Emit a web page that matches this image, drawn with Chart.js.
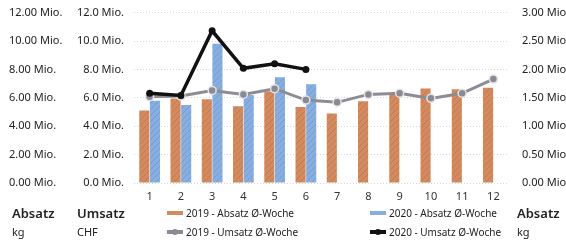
<!DOCTYPE html>
<html>
<head>
<meta charset="utf-8">
<script src="https://cdn.jsdelivr.net/npm/chart.js@4"></script>
<style>
  body { margin: 0; background: #fff; font-family: "Noto Sans", sans-serif; color: #222; }
  #wrap { position: relative; width: 566px; height: 244px; overflow: hidden; }
  canvas { position: absolute; left: 0; top: -4px; }
  .t { position: absolute; white-space: nowrap; }
  .big { font-size: 13px; font-weight: 600; }
  .small { font-size: 11px; }
  .leg { position: absolute; font-size: 10px; white-space: nowrap; display: flex; align-items: center; }
  .sw { display: inline-block; width: 16px; height: 4px; margin-right: 3px; position: relative; }
  .sw i { position: absolute; left: 5px; top: -1px; width: 6px; height: 6px; border-radius: 3px; }
</style>
</head>
<body>
<div id="wrap">
  <canvas id="chart" width="566" height="248"></canvas>
  <div class="t big" style="left:12px; top:204px;">Absatz</div>
  <div class="t small" style="left:12px; top:224px;">kg</div>
  <div class="t big" style="left:77px; top:204px;">Umsatz</div>
  <div class="t small" style="left:77px; top:224px;">CHF</div>
  <div class="t big" style="left:517px; top:204px;">Absatz</div>
  <div class="t small" style="left:517px; top:224px;">kg</div>
  <div id="legend"></div>
</div>
<script>
// Kalenderwochen-Gruppen
const labels = ['1', '2', '3', '4', '5', '6', '7', '8', '9', '10', '11', '12'];

// Absatz (Mio. kg), linke Achse
const absatz2019 = [5.1, 5.95, 5.9, 5.4, 6.45, 5.35, 4.9, 5.75, 6.2, 6.65, 6.6, 6.7];
const absatz2020 = [5.8, 5.5, 9.8, 6.2, 7.45, 6.95];

// Umsatz (Mio. CHF), rechte Achse
const umsatz2019 = [1.52, 1.53, 1.63, 1.56, 1.66, 1.46, 1.42, 1.56, 1.58, 1.49, 1.58, 1.83];
const umsatz2020 = [1.58, 1.54, 2.68, 2.02, 2.1, 2.0];

const leftTicks = [0, 2, 4, 6, 8, 10, 12];
const rightTicks = [0, 0.5, 1, 1.5, 2, 2.5, 3];

// schraffierte Balken wie im Ausdruck
function hatch(base, line) {
    const c = document.createElement('canvas');
    c.width = 6; c.height = 6;
    const g = c.getContext('2d');
    g.fillStyle = base;
    g.fillRect(0, 0, 6, 6);
    g.strokeStyle = line;
    g.lineWidth = 1;
    g.beginPath();
    g.moveTo(0, 6); g.lineTo(6, 0);
    g.moveTo(-3, 3); g.lineTo(3, -3);
    g.moveTo(3, 9); g.lineTo(9, 3);
    g.stroke();
    return g.createPattern(c, 'repeat');
}

const ctx = document.getElementById('chart').getContext('2d');
const orange = hatch('#d48a5c', '#c47a4c');
const blue = hatch('#86aee0', '#739ed4');

const datasets = [
    { type: 'line', label: '2020 - Umsatz Ø-Woche', data: umsatz2020, yAxisID: 'y3', order: 0,
      borderColor: '#111', backgroundColor: '#111', borderWidth: 3.5,
      pointRadius: 3.5, pointBackgroundColor: '#111', pointBorderWidth: 0, tension: 0 },
    { type: 'line', label: '2019 - Umsatz Ø-Woche', data: umsatz2019, yAxisID: 'y3', order: 1,
      borderColor: '#8c8c94', backgroundColor: '#8c8c94', borderWidth: 3,
      pointRadius: 4, pointBackgroundColor: '#8a8a92', pointBorderColor: '#e4e4e8', pointBorderWidth: 1.5, tension: 0 },
    { type: 'bar', label: '2019 - Absatz Ø-Woche', data: absatz2019, yAxisID: 'y', order: 2,
      backgroundColor: orange, categoryPercentage: 0.68, barPercentage: 0.95 },
    { type: 'bar', label: '2020 - Absatz Ø-Woche', data: absatz2020, yAxisID: 'y', order: 3,
      backgroundColor: blue, categoryPercentage: 0.68, barPercentage: 0.95 }
];

const tickFont = { family: 'Noto Sans', size: 11 };

new Chart(ctx, {
    data: { labels: labels, datasets: [datasets[2], datasets[3], datasets[1], datasets[0]] },
    options: {
        responsive: false,
        animation: false,
        layout: { padding: { left: 9, top: 4, right: 0, bottom: 21 } },
        plugins: { legend: { display: false }, tooltip: { enabled: false } },
        scales: {
            x: {
                afterFit: s => { s.height = 40; },
                grid: { display: false, drawTicks: false },
                border: { display: false },
                ticks: { color: '#333', font: tickFont, padding: 7, maxRotation: 0 }
            },
            // innere linke Achse (CHF, eine Nachkommastelle)
            y: {
                position: 'left',
                min: 0, max: 12,
                afterBuildTicks: s => { s.ticks = leftTicks.map(v => ({ value: v })); },
                afterFit: s => { s.width = 62; },
                grid: { color: '#d8d8d8', lineWidth: 1, drawTicks: false },
                border: { display: false, dash: [1, 2] },
                ticks: { color: '#222', font: tickFont, padding: 10,
                         callback: v => v.toFixed(1) + ' Mio.' }
            },
            // äussere linke Achse (kg, zwei Nachkommastellen)
            y2: {
                position: 'left',
                min: 0, max: 12,
                afterBuildTicks: s => { s.ticks = leftTicks.map(v => ({ value: v })); },
                afterFit: s => { s.width = 63; },
                grid: { display: false },
                border: { display: false },
                ticks: { crossAlign: 'far', color: '#222', font: tickFont,
                         callback: v => v.toFixed(2) + ' Mio.' }
            },
            y3: {
                position: 'right',
                min: 0, max: 3,
                afterBuildTicks: s => { s.ticks = rightTicks.map(v => ({ value: v })); },
                afterFit: s => { s.width = 57; },
                grid: { display: false },
                border: { display: false },
                ticks: { color: '#222', font: tickFont, padding: 5,
                         callback: v => v.toFixed(2) + ' Mio.' }
            }
        }
    }
});

// Legende in zwei Spalten
const legendPos = [
    { ds: datasets[2], left: 167, top: 206, color: '#d48a5c', dot: null },
    { ds: datasets[3], left: 370, top: 206, color: '#86aee0', dot: null },
    { ds: datasets[1], left: 167, top: 225, color: '#8c8c94', dot: '#8c8c94' },
    { ds: datasets[0], left: 370, top: 225, color: '#111', dot: '#111' }
];
const legend = document.getElementById('legend');
legendPos.forEach(p => {
    const el = document.createElement('div');
    el.className = 'leg';
    el.style.left = p.left + 'px';
    el.style.top = p.top + 'px';
    const sw = document.createElement('span');
    sw.className = 'sw';
    sw.style.background = p.color;
    if (p.dot) {
        const d = document.createElement('i');
        d.style.background = p.dot;
        sw.appendChild(d);
    }
    el.appendChild(sw);
    el.appendChild(document.createTextNode(p.ds.label));
    legend.appendChild(el);
});
</script>
</body>
</html>
